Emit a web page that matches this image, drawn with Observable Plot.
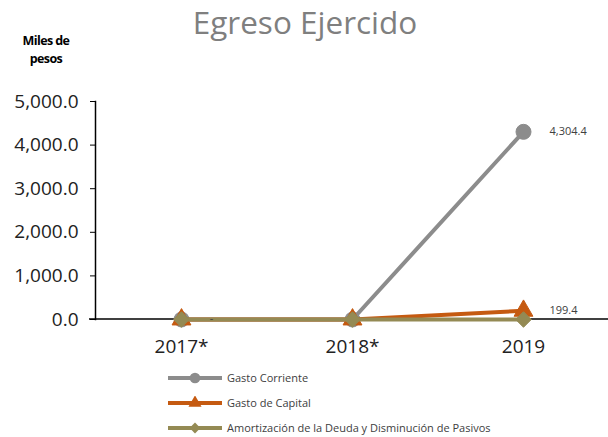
<!DOCTYPE html>
<html>
<head>
<meta charset="utf-8">
<script src="https://cdn.jsdelivr.net/npm/d3@7"></script>
<script src="https://cdn.jsdelivr.net/npm/@observablehq/plot@0.6"></script>
<style>
  html, body { margin: 0; padding: 0; background: #fff; }
  #wrap { position: relative; width: 608px; height: 437px; font-family: "Open Sans", sans-serif; overflow: hidden; }
  #title { position: absolute; left: 0; width: 610px; top: 0px; text-align: center; font-size: 31.5px; color: #7f7f7f; line-height: 44px; }
  #ylab { position: absolute; left: 10px; width: 72px; top: 32px; text-align: center; font-size: 12.5px; font-weight: bold; letter-spacing: -0.6px; line-height: 18px; color: #000; }
  #legend { position: absolute; left: 166px; top: 365px; font-size: 11px; color: #404040; }
  .row { display: flex; align-items: center; height: 25px; }
  .row svg { margin-right: 3px; }
  #chart { position: absolute; left: 0; top: 0; }
</style>
</head>
<body>
<div id="wrap">
  <div id="chart"></div>
  <div id="title">Egreso Ejercido</div>
  <div id="ylab">Miles de<br>pesos</div>
  <div id="legend"></div>
</div>
<script>
const years = ["2017*", "2018*", "2019"];
const seriesNames = ["Gasto Corriente", "Gasto de Capital", "Amortización de la Deuda y Disminución de Pasivos"];
const gastoCorriente = [0, 0, 4304.4];
const gastoCapital = [0, 0, 199.4];
const amortizacion = [0, 0, 0];
const yTicks = [0, 1000, 2000, 3000, 4000, 5000];
const labelText = ["4,304.4", "199.4", "-"];
const labelYear = ["2019", "2019", "2017*"];
const labelValue = [4304.4, 199.4, 0];

const colors = ["#8c8c8c", "#c55a11", "#948a54"];
const symbols = ["circle", "triangle", "diamond2"];
const sizes = [7.5, 7, 7];
const values = [gastoCorriente, gastoCapital, amortizacion];

const data = [];
seriesNames.forEach((s, i) => years.forEach((y, j) => data.push({series: s, year: y, value: values[i][j], idx: i})));
const labels = labelText.map((t, i) => ({text: t, year: labelYear[i], value: labelValue[i]}));

const marks = [];
seriesNames.forEach((s, i) => {
  const d = data.filter(r => r.idx === i);
  marks.push(Plot.line(d, {x: "year", y: "value", stroke: colors[i], strokeWidth: 4}));
  marks.push(Plot.dot(d, {x: "year", y: "value", fill: colors[i], stroke: colors[i], strokeWidth: 1, symbol: () => symbols[i], r: sizes[i]}));
});
marks.push(Plot.text(labels.slice(0, 2), {x: "year", y: "value", text: "text", dx: 26, textAnchor: "start", fontSize: 11, fill: "#404040"}));
marks.push(Plot.text(labels.slice(2), {x: "year", y: "value", text: "text", dx: 30, dy: -1, fontSize: 11, fill: "#404040"}));
marks.push(Plot.axisY({ticks: yTicks, tickFormat: d3.format(",.1f"), tickSize: 5, tickPadding: 12, fontSize: 19, fill: "#222", label: null}));
marks.push(Plot.axisX({tickSize: 0, tickPadding: 20, fontSize: 19, fill: "#222", label: null}));
marks.push(Plot.frame({anchor: "left", stroke: "#000", strokeWidth: 1.5}));

const chart = Plot.plot({
  width: 608,
  height: 437,
  marginLeft: 95,
  marginRight: 0,
  marginTop: 101,
  marginBottom: 118,
  style: {fontFamily: "'Open Sans', sans-serif", background: "transparent", overflow: "visible"},
  x: {type: "point", domain: years, padding: 0.5},
  y: {domain: [0, 5000]},
  marks
});
document.getElementById("chart").appendChild(chart);
// baseline (category axis line) across the full frame width
d3.select(chart).insert("line", ":first-child")
  .attr("x1", 89).attr("x2", 608).attr("y1", 319).attr("y2", 319)
  .attr("stroke", "#000").attr("stroke-width", 1.5);

const legend = document.getElementById("legend");
const symMap = {circle: d3.symbolCircle, triangle: d3.symbolTriangle, diamond2: d3.symbolDiamond2};
seriesNames.forEach((s, i) => {
  const row = document.createElement("div");
  row.className = "row";
  const sym = d3.symbol().type(symMap[symbols[i]]).size(i === 0 ? 90 : 75)();
  row.innerHTML = `<svg width="58" height="14"><line x1="2" x2="56" y1="7" y2="7" stroke="${colors[i]}" stroke-width="4"/><path d="${sym}" transform="translate(29,7)" fill="${colors[i]}"/></svg><span>${s}</span>`;
  legend.appendChild(row);
});
</script>
</body>
</html>
